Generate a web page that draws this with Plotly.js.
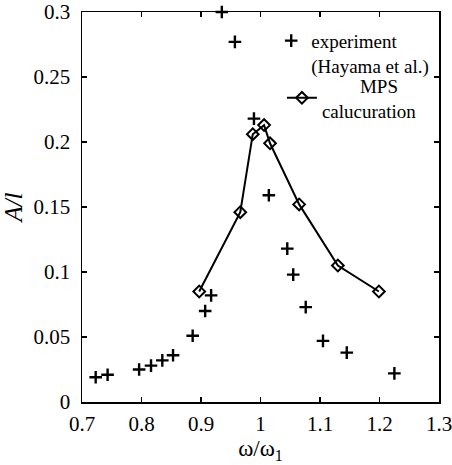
<!DOCTYPE html>
<html><head><meta charset="utf-8">
<script src="https://cdn.plot.ly/plotly-3.0.1.min.js"></script>
<style>html,body{margin:0;padding:0;background:#fff;}#chart{width:452px;height:465px;}</style>
</head><body><div id="chart"></div>
<script>
// Experiment (Hayama et al.)
const expX = [0.723, 0.743, 0.796, 0.816, 0.835, 0.853, 0.886, 0.907, 0.917, 0.935, 0.957, 0.989, 1.014, 1.045, 1.055, 1.076, 1.105, 1.145, 1.225];
const expY = [0.019, 0.021, 0.025, 0.028, 0.032, 0.036, 0.051, 0.070, 0.082, 0.300, 0.277, 0.218, 0.159, 0.118, 0.098, 0.073, 0.047, 0.038, 0.022];
// MPS calculation
const mpsX = [0.897, 0.966, 0.987, 1.006, 1.016, 1.065, 1.130, 1.199];
const mpsY = [0.085, 0.146, 0.206, 0.213, 0.199, 0.152, 0.105, 0.085];
const xTicks = [0.7, 0.8, 0.9, 1.0, 1.1, 1.2, 1.3];
const xTickText = ['0.7', '0.8', '0.9', '1', '1.1', '1.2', '1.3'];
const yTicks = [0, 0.05, 0.1, 0.15, 0.2, 0.25, 0.3];
const yTickText = ['0', '0.05', '0.1', '0.15', '0.2', '0.25', '0.3'];

const serif = 'Liberation Serif, Times New Roman, serif';
const traces = [
  {x: expX, y: expY, type: 'scatter', mode: 'markers', name: 'experiment<br>(Hayama et al.)',
   marker: {symbol: 'cross-thin', size: 9, line: {width: 2.4, color: '#000'}, color: '#000'},
   cliponaxis: false, legend: 'legend'},
  {x: mpsX, y: mpsY, type: 'scatter', mode: 'lines+markers', name: '&nbsp;&nbsp;&nbsp;&nbsp;&nbsp;&nbsp;&nbsp;&nbsp;MPS<br>calucuration',
   line: {color: '#000', width: 2},
   marker: {symbol: 'diamond-open', size: 9, line: {width: 2, color: '#000'}, color: '#000'},
   cliponaxis: false, legend: 'legend2'}
];
const axisCommon = {
  showline: true, linecolor: '#000', linewidth: 1.5, mirror: 'ticks',
  ticks: 'inside', ticklen: 5, tickwidth: 1.2, tickcolor: '#000',
  showgrid: false, zeroline: false, ticklabeloverflow: 'allow',
  tickfont: {family: serif, size: 21, color: '#000'}
};
const layout = {
  width: 452, height: 465,
  margin: {l: 82, r: 13, t: 12, b: 63},
  paper_bgcolor: '#fff', plot_bgcolor: '#fff',
  showlegend: true,
  xaxis: Object.assign({}, axisCommon, {range: [0.7, 1.3], tickvals: xTicks, ticktext: xTickText,
    ticklabelstandoff: 2,
    title: {text: 'ω/ω<sub>1</sub>', font: {family: serif, size: 23, color: '#000'}, standoff: 0}}),
  yaxis: Object.assign({}, axisCommon, {range: [0, 0.3], tickvals: yTicks, ticktext: yTickText,
    ticklabelstandoff: 6,
    title: {text: '<i>A/l</i>', font: {family: serif, size: 25, color: '#000'}, standoff: 4}}),
  legend: {x: 0.53, y: 0.975, xanchor: 'left', yanchor: 'top', valign: 'top',
    bgcolor: 'rgba(0,0,0,0)', borderwidth: 0, font: {family: serif, size: 19, color: '#000'},
    itemwidth: 30, tracegroupgap: 0},
  legend2: {x: 0.56, y: 0.86, xanchor: 'left', yanchor: 'top', valign: 'middle',
    bgcolor: 'rgba(0,0,0,0)', borderwidth: 0, font: {family: serif, size: 19, color: '#000'},
    itemwidth: 30}
};
Plotly.newPlot('chart', traces, layout, {displayModeBar: false, staticPlot: true});
</script></body></html>
